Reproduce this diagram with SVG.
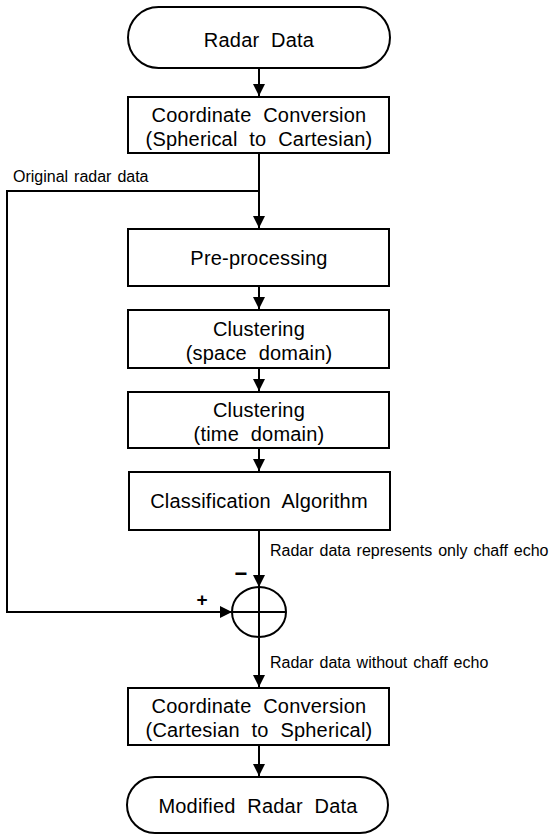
<svg xmlns="http://www.w3.org/2000/svg" width="557" height="835" viewBox="0 0 557 835">
<style>
.n{fill:#fff;stroke:#000;stroke-width:2}
.t{font-family:"Liberation Sans",Arial,sans-serif;font-size:20px;fill:#000;text-anchor:middle;word-spacing:6px;letter-spacing:0.2px}
.s{font-family:"Liberation Sans",Arial,sans-serif;font-size:16px;fill:#000;word-spacing:1.5px}
.c{fill:none;stroke:#000;stroke-width:2}
</style>
<defs>
<marker id="a" viewBox="0 0 12 12" refX="12" refY="6" markerWidth="12" markerHeight="12" markerUnits="userSpaceOnUse" orient="auto">
<path d="M0,0 L12,6 L0,12 Z" fill="#000"/>
</marker>
</defs>
<g id="connectors">
<line class="c" x1="259" y1="68" x2="259" y2="96" marker-end="url(#a)"/>
<line class="c" x1="259" y1="153" x2="259" y2="228" marker-end="url(#a)"/>
<line class="c" x1="259" y1="286" x2="259" y2="309" marker-end="url(#a)"/>
<line class="c" x1="259" y1="368" x2="259" y2="391" marker-end="url(#a)"/>
<line class="c" x1="259" y1="448" x2="259" y2="471" marker-end="url(#a)"/>
<line class="c" x1="259" y1="530" x2="259" y2="587" marker-end="url(#a)"/>
<polyline class="c" points="259,191 7,191 7,612 232,612" marker-end="url(#a)"/>
<line class="c" x1="259" y1="638" x2="259" y2="687" marker-end="url(#a)"/>
<line class="c" x1="259" y1="745" x2="259" y2="776" marker-end="url(#a)"/>
<text class="s" x="13" y="182">Original radar data</text>
<text class="s" x="270" y="556">Radar data represents only chaff echo</text>
<text class="s" x="270" y="668">Radar data without chaff echo</text>
<text class="s" x="241" y="581" style="font-size:22px;font-weight:bold" text-anchor="middle">−</text>
<text class="s" x="202" y="606" style="font-size:19px;font-weight:bold" text-anchor="middle">+</text>
</g>
<g id="radar-data">
<rect class="n" x="128" y="7" width="262" height="61" rx="30.5"/>
<text class="t" x="259" y="47">Radar Data</text>
</g>
<g id="coord-conv-1">
<rect class="n" x="128" y="97" width="261" height="56"/>
<text class="t" x="259" y="122">Coordinate Conversion</text>
<text class="t" x="259" y="146">(Spherical to Cartesian)</text>
</g>
<g id="pre-processing">
<rect class="n" x="128" y="229" width="261" height="57"/>
<text class="t" x="259" y="265">Pre-processing</text>
</g>
<g id="clustering-space">
<rect class="n" x="128" y="310" width="261" height="58"/>
<text class="t" x="259" y="336">Clustering</text>
<text class="t" x="259" y="360">(space domain)</text>
</g>
<g id="clustering-time">
<rect class="n" x="128" y="392" width="261" height="56"/>
<text class="t" x="259" y="417">Clustering</text>
<text class="t" x="259" y="441">(time domain)</text>
</g>
<g id="classification">
<rect class="n" x="129" y="472" width="261" height="58"/>
<text class="t" x="259" y="508">Classification Algorithm</text>
</g>
<g id="sum">
<ellipse class="n" cx="259" cy="612" rx="27" ry="25"/>
<line class="c" x1="232" y1="612" x2="286" y2="612"/>
<line class="c" x1="259" y1="587" x2="259" y2="637"/>
</g>
<g id="coord-conv-2">
<rect class="n" x="128" y="688" width="261" height="57"/>
<text class="t" x="259" y="713">Coordinate Conversion</text>
<text class="t" x="259" y="737">(Cartesian to Spherical)</text>
</g>
<g id="modified-radar-data">
<rect class="n" x="127" y="777" width="261" height="56" rx="28"/>
<text class="t" x="258" y="813">Modified Radar Data</text>
</g>
</svg>
